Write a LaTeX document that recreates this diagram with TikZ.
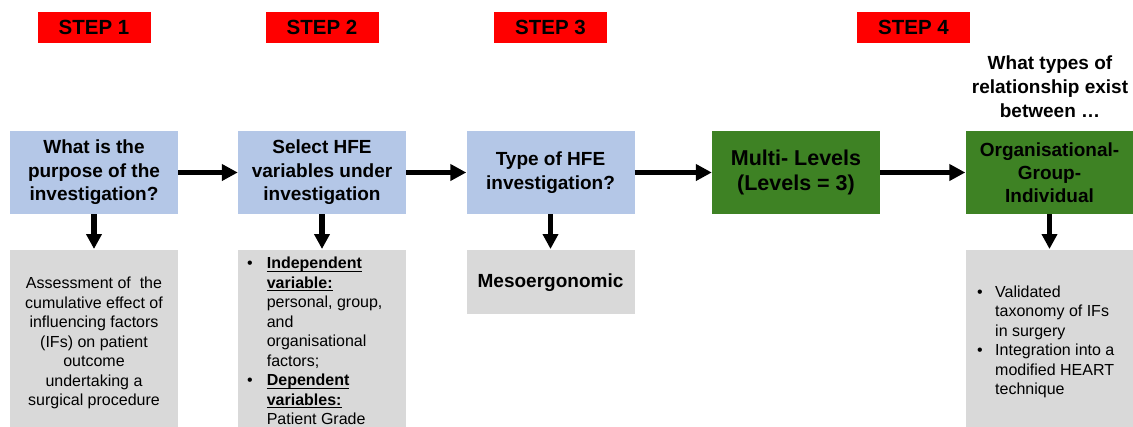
\documentclass[tikz,border=0pt]{standalone}
\usepackage{fontspec}
\setmainfont{Liberation Sans}
\usetikzlibrary{arrows.meta}
\definecolor{stepred}{RGB}{255,0,0}
\definecolor{qblue}{RGB}{180,199,231}
\definecolor{lvgreen}{RGB}{62,130,36}
\definecolor{outgray}{RGB}{217,217,217}
\newcommand\myuline[1]{\setbox0\hbox{#1}\rlap{\rule[-2.8pt]{\wd0}{1.1pt}}\box0}
\begin{document}
\begin{tikzpicture}[x=1pt,y=-1pt,
  steplabel/.style={fill=stepred, minimum width=113pt, minimum height=31pt, inner sep=0pt,
    font=\fontsize{20.5}{24}\selectfont\bfseries},
  qbox/.style={fill=qblue, minimum width=168pt, minimum height=83pt, inner sep=0pt, align=center,
    font=\fontsize{19}{23.5}\selectfont\bfseries},
  gbox/.style={fill=lvgreen, minimum width=168pt, minimum height=83pt, inner sep=0pt, align=center,
    font=\fontsize{19}{23}\selectfont\bfseries},
  outbox/.style={fill=outgray, minimum width=168pt, inner sep=0pt, anchor=north},
  outtext/.style={inner sep=0pt, font=\fontsize{16}{19.5}\selectfont},
  conn/.style={line width=5.5pt, -{Triangle[length=16pt,width=16pt]}},
  downconn/.style={line width=5.5pt, -{Triangle[length=15pt,width=15pt]}, shorten >=1pt}
]
\useasboundingbox (0,0) rectangle (1133,426);
\clip (0,0) rectangle (1133,426);

% step labels
\node[steplabel] (s1) at (94,27.5) {STEP 1};
\node[steplabel] (s2) at (322,27.5) {STEP 2};
\node[steplabel] (s3) at (550.5,27.5) {STEP 3};
\node[steplabel] (s4) at (913.5,27.5) {STEP 4};

% question above step 4
\node[inner sep=0pt, align=center, font=\fontsize{19}{24}\selectfont\bfseries] (q) at (1050,87)
  {What types of\\relationship exist\\between …};

% main row
\node[qbox] (b1) at (94,172.5) {What is the\\purpose of the\\investigation?};
\node[qbox] (b2) at (322,172.5) {Select HFE\\variables under\\investigation};
\node[qbox] (b3) at (550.5,172.5) {Type of HFE\\investigation?};
\node[gbox, font=\fontsize{21.5}{25}\selectfont\bfseries] (b4) at (796,172.5) {Multi- Levels\\(Levels = 3)};
\node[gbox] (b5) at (1049.5,172.5) {Organisational-\\Group-\\Individual};

% output boxes
\node[outbox, minimum height=190pt] (g1) at (94,250) {};
\node[outbox, minimum height=190pt] (g2) at (322,250) {};
\node[outbox, minimum height=64pt, font=\fontsize{19}{23}\selectfont\bfseries] (g3) at (550.5,250) {Mesoergonomic};
\node[outbox, minimum height=190pt] (g5) at (1049.5,250) {};

\node[outtext, anchor=north] (t1) at (94,275) {\begin{tabular}{@{}c@{}}
Assessment of\ \ the\\
cumulative effect of\\
influencing factors\\
(IFs) on patient\\
outcome\\
undertaking a\\
surgical procedure
\end{tabular}};

\node[outtext, anchor=north west] (t2) at (247,255) {\begin{tabular}{@{}l@{\hspace{14pt}}l@{}}
•&\textbf{\myuline{Independent}}\\
&\textbf{\myuline{variable:}}\\
&personal, group,\\
&and\\
&organisational\\
&factors;\\
•&\textbf{\myuline{Dependent}}\\
&\textbf{\myuline{variables:}}\\
&Patient Grade
\end{tabular}};

\node[outtext, anchor=north west] (t5) at (977,283.5) {\begin{tabular}{@{}l@{\hspace{12.4pt}}l@{}}
•&Validated\\
&taxonomy of IFs\\
&in surgery\\
•&Integration into a\\
&modified HEART\\
&technique
\end{tabular}};

% connectors
\draw[conn] (b1.east) -- (b2.west);
\draw[conn] (b2.east) -- (b3.west);
\draw[conn] (b3.east) -- (b4.west);
\draw[conn] (b4.east) -- (b5.west);
\draw[downconn] (b1.south) -- (g1.north);
\draw[downconn] (b2.south) -- (g2.north);
\draw[downconn] (b3.south) -- (g3.north);
\draw[downconn] (b5.south) -- (g5.north);
\end{tikzpicture}
\end{document}
